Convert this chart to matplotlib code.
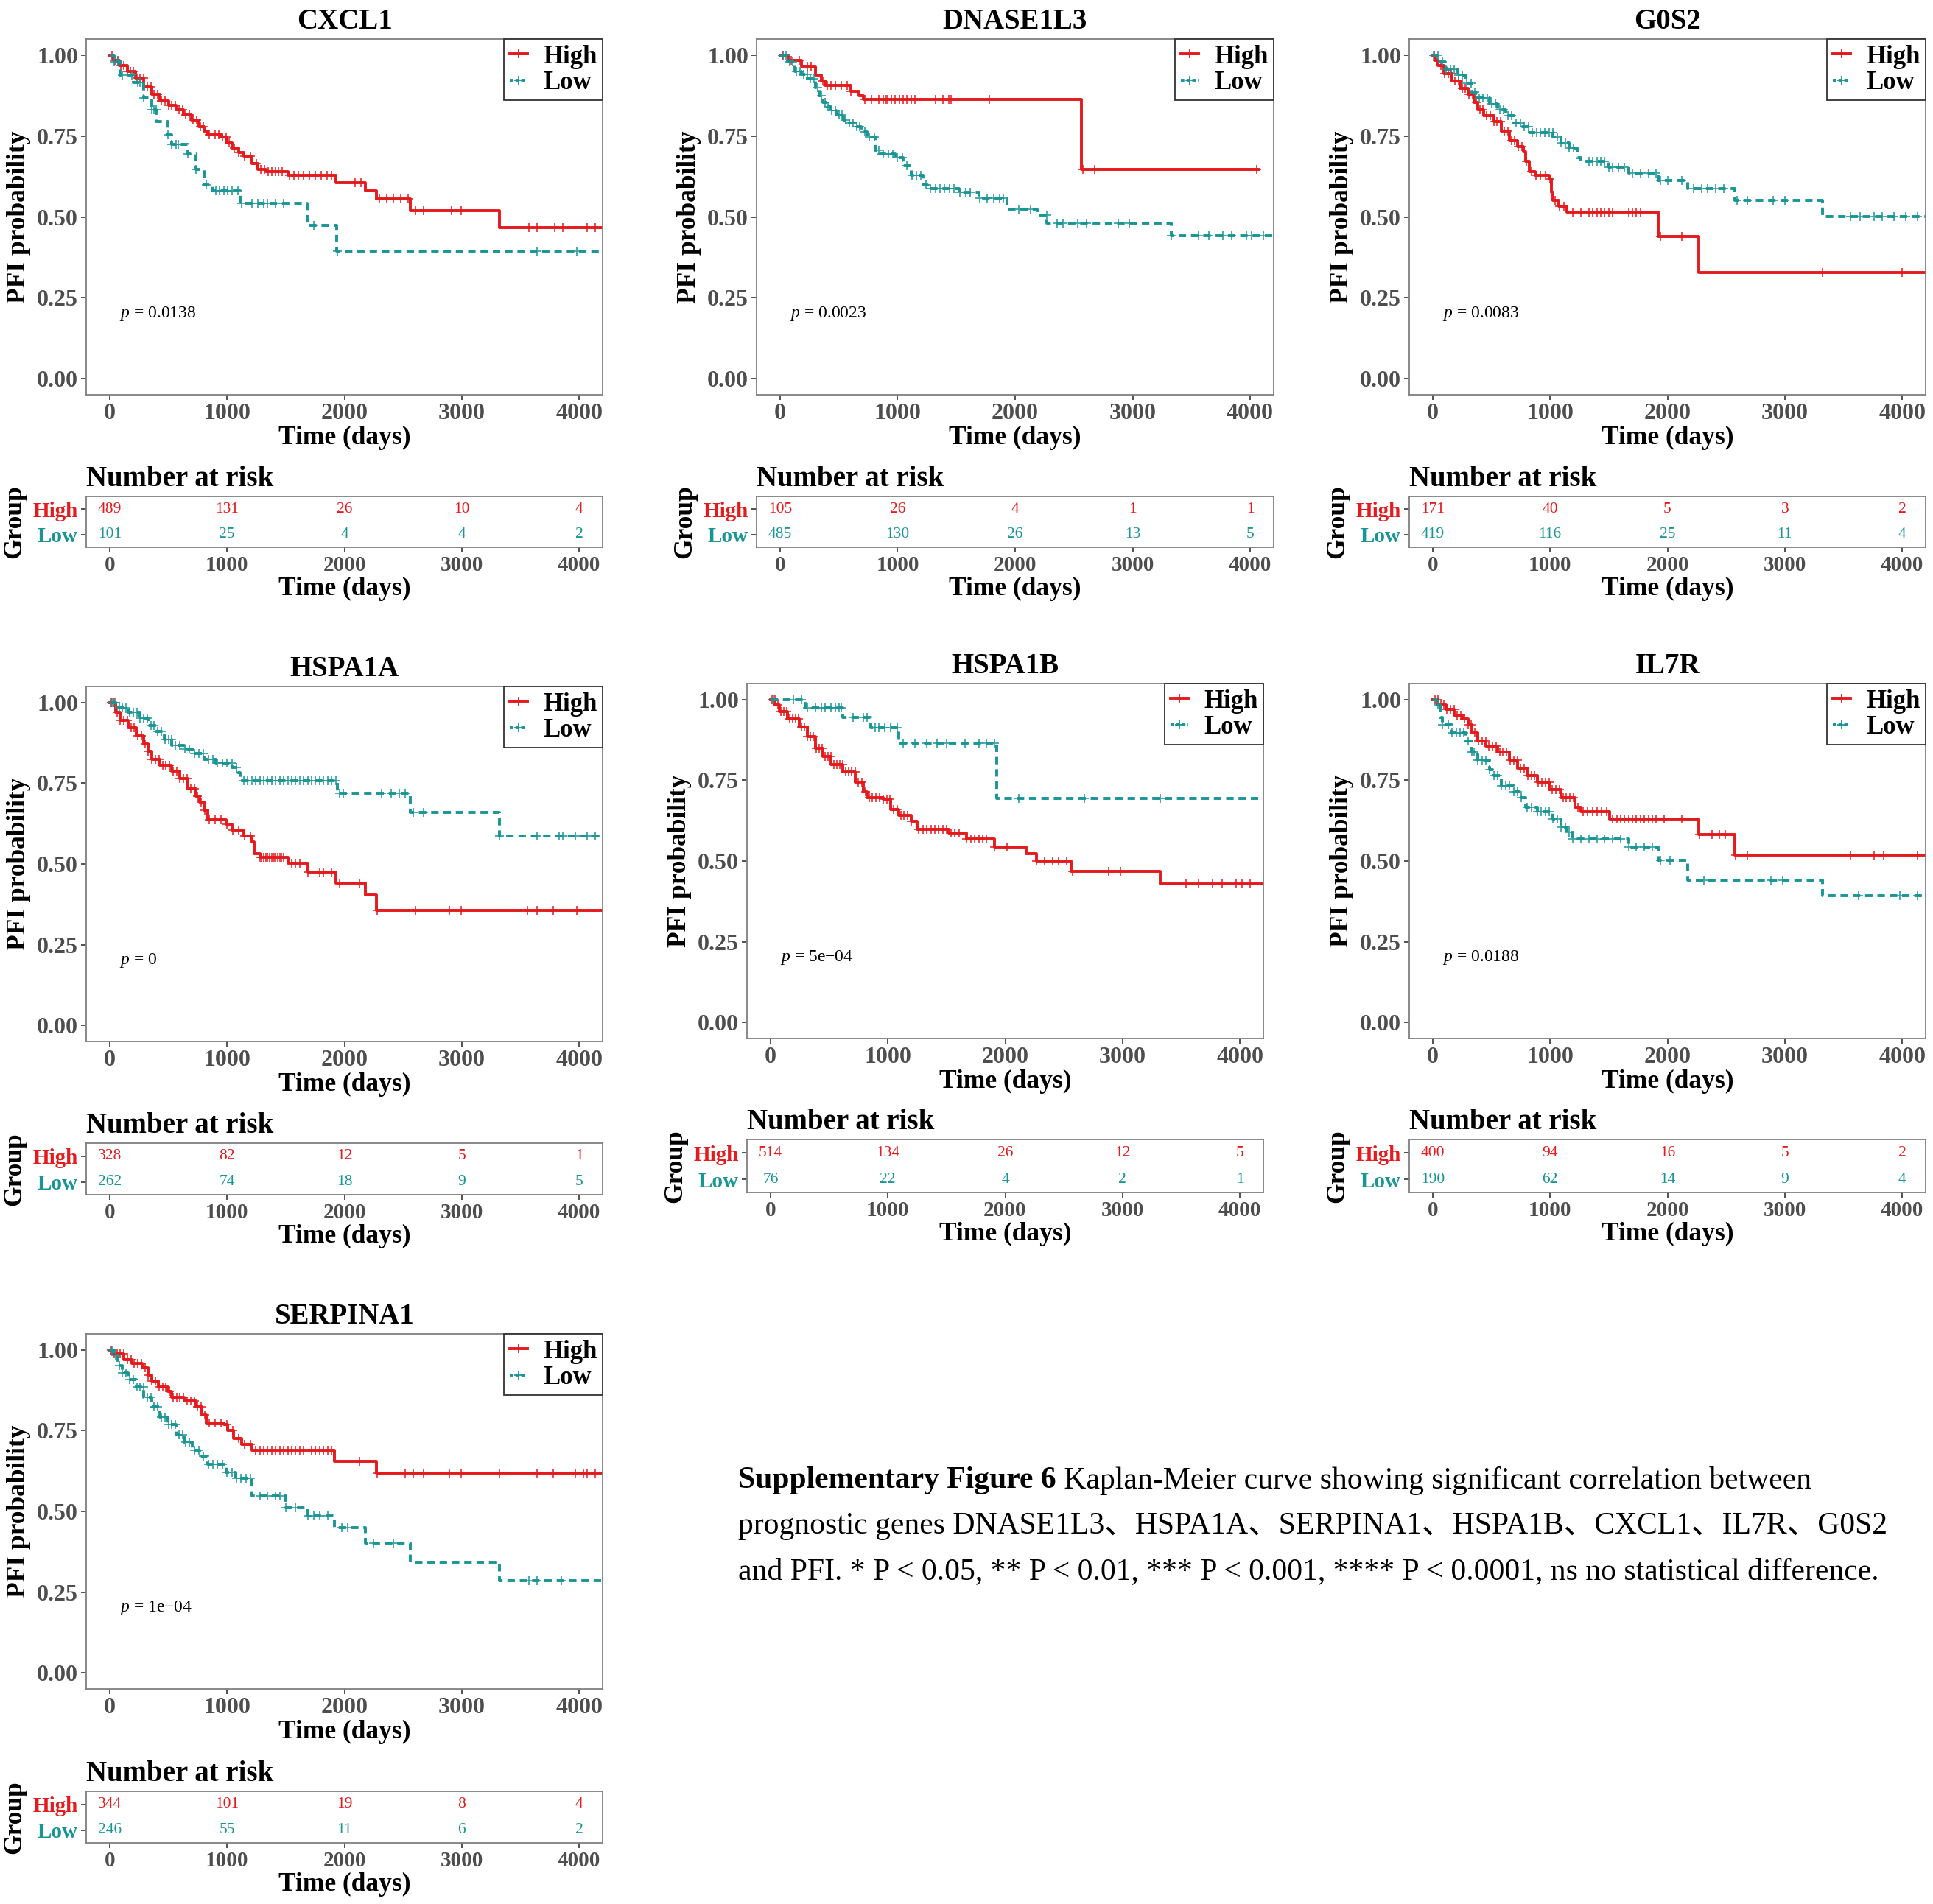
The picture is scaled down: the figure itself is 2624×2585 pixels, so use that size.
import numpy as np
import matplotlib.pyplot as plt
from matplotlib.lines import Line2D

plt.rcParams['font.family'] = ['Liberation Serif', 'Noto Sans CJK SC']
plt.rcParams['mathtext.fontset'] = 'custom'
plt.rcParams['mathtext.it'] = 'Liberation Serif:italic'
plt.rcParams['mathtext.rm'] = 'Liberation Serif'

W, H = 2624, 2585
RED = '#E41A1C'
TEAL = '#1A9595'
GREY = '#4D4D4D'
FRAME = '#7F7F7F'

risk_times = [0, 1000, 2000, 3000, 4000]
y_ticks = [0.0, 0.25, 0.5, 0.75, 1.0]

# ---------------- CXCL1
cxcl1_high_t = [0, 30, 80, 150, 220, 292, 360, 429, 500, 565, 630, 700, 760, 803, 837, 955, 1000, 1041,
                1100, 1143, 1211, 1262, 1330, 1517, 1925, 2180, 2272, 2564, 3319]
cxcl1_high_s = [1.0, 0.985, 0.968, 0.95, 0.93, 0.903, 0.88, 0.859, 0.845, 0.831, 0.815, 0.80, 0.78, 0.766,
                0.754, 0.748, 0.73, 0.713, 0.70, 0.689, 0.665, 0.647, 0.641, 0.628, 0.607, 0.580, 0.556,
                0.519, 0.467]
cxcl1_high_cens = [20, 45, 70, 95, 120, 150, 175, 200, 230, 260, 290, 320, 350, 380, 410, 440, 470, 500, 530,
                   560, 590, 620, 650, 680, 710, 740, 770, 800, 850, 900, 930, 960, 990, 1020, 1060, 1100,
                   1150, 1200, 1250, 1290, 1320, 1350, 1380, 1410, 1440, 1470, 1534, 1570, 1610, 1650, 1700,
                   1750, 1800, 1850, 1891, 2090, 2140, 2300, 2360, 2420, 2480, 2540, 2605, 2673, 2911, 2996,
                   3574, 3642, 3795, 3863, 4068, 4135]
cxcl1_low_t = [0, 37, 88, 200, 292, 360, 395, 497, 530, 667, 735, 803, 871, 1109, 1680, 1935]
cxcl1_low_s = [1.0, 0.98, 0.938, 0.915, 0.867, 0.831, 0.796, 0.754, 0.724, 0.695, 0.647, 0.60, 0.580, 0.543,
               0.473, 0.394]
cxcl1_low_cens = [37, 71, 105, 190, 241, 258, 292, 360, 377, 394, 497, 531, 565, 582, 667, 735, 820, 905, 939,
                  973, 1007, 1041, 1092, 1126, 1211, 1262, 1313, 1347, 1415, 1483, 1738, 1942, 3643, 3983]
cxcl1_risk_high = [489, 131, 26, 10, 4]
cxcl1_risk_low = [101, 25, 4, 4, 2]

# ---------------- DNASE1L3
dnase_high_t = [0, 78, 180, 299, 350, 384, 605, 673, 707, 2564]
dnase_high_s = [1.0, 0.983, 0.966, 0.938, 0.92, 0.906, 0.888, 0.875, 0.863, 0.647]
dnase_high_cens = [27, 95, 163, 231, 265, 367, 401, 435, 469, 520, 571, 605, 724, 775, 843, 877, 894, 911,
                   945, 979, 1013, 1047, 1081, 1116, 1150, 1320, 1388, 1439, 1456, 1779, 2578, 2680, 4057]
dnase_low_t = [0, 61, 129, 180, 231, 299, 330, 367, 400, 435, 480, 537, 590, 639, 690, 741, 809, 843, 979,
               1047, 1116, 1218, 1252, 1524, 1694, 1932, 2187, 2272, 3326]
dnase_low_s = [1.0, 0.98, 0.95, 0.94, 0.926, 0.90, 0.875, 0.855, 0.84, 0.83, 0.815, 0.80, 0.79, 0.778, 0.762,
               0.748, 0.707, 0.695, 0.683, 0.659, 0.629, 0.600, 0.588, 0.576, 0.558, 0.523, 0.505, 0.481, 0.442]
dnase_low_cens = [20, 50, 80, 110, 140, 170, 200, 230, 260, 290, 320, 350, 380, 410, 440, 470, 500, 530, 560,
                  590, 620, 650, 680, 720, 760, 800, 840, 880, 920, 960, 1000, 1040, 1080, 1120, 1160, 1200,
                  1240, 1280, 1320, 1360, 1400, 1440, 1480, 1530, 1580, 1620, 1700, 1760, 1820, 1870, 1900,
                  2030, 2130, 2270, 2360, 2410, 2530, 2610, 2880, 2970, 3330, 3560, 3650, 3770, 3840, 3970,
                  4010, 4110]
dnase_risk_high = [105, 26, 4, 1, 1]
dnase_risk_low = [485, 130, 26, 13, 5]

# ---------------- G0S2
g0s2_high_t = [0, 20, 47, 98, 165, 233, 300, 351, 385, 436, 520, 587, 655, 722, 773, 790, 824, 874, 993,
               1009, 1026, 1077, 1144, 1924, 2269]
g0s2_high_s = [1.0, 0.985, 0.968, 0.944, 0.92, 0.897, 0.879, 0.855, 0.831, 0.814, 0.796, 0.766, 0.736, 0.718,
               0.701, 0.671, 0.641, 0.629, 0.618, 0.576, 0.552, 0.534, 0.514, 0.439, 0.329]
g0s2_high_cens = [15, 40, 70, 100, 130, 160, 190, 220, 250, 280, 310, 340, 370, 400, 430, 460, 490, 520, 550,
                  580, 610, 640, 670, 700, 730, 760, 800, 840, 880, 920, 960, 1000, 1040, 1080, 1120, 1195,
                  1263, 1330, 1364, 1398, 1432, 1465, 1499, 1533, 1668, 1702, 1735, 1769, 1938, 2124, 3322, 3997]
g0s2_low_t = [0, 47, 115, 216, 284, 334, 385, 486, 554, 621, 689, 756, 824, 1026, 1094, 1161, 1229, 1263,
              1499, 1668, 1921, 2174, 2572, 3322]
g0s2_low_s = [1.0, 0.98, 0.956, 0.938, 0.914, 0.885, 0.867, 0.849, 0.831, 0.814, 0.790, 0.778, 0.760, 0.748,
              0.730, 0.713, 0.683, 0.671, 0.653, 0.635, 0.612, 0.588, 0.552, 0.501]
g0s2_low_cens = [10, 45, 80, 115, 150, 185, 220, 255, 290, 325, 360, 395, 430, 465, 500, 535, 570, 605, 640,
                 675, 710, 745, 780, 815, 850, 885, 920, 955, 990, 1025, 1060, 1095, 1130, 1165, 1200, 1330,
                 1364, 1398, 1432, 1465, 1499, 1533, 1583, 1634, 1702, 1769, 1837, 1904, 1938, 2005, 2124,
                 2225, 2292, 2343, 2411, 2478, 2596, 2681, 2900, 3001, 3558, 3643, 3761, 3828, 3930, 4031, 4132]
g0s2_risk_high = [171, 40, 5, 3, 2]
g0s2_risk_low = [419, 116, 25, 11, 4]

# ---------------- HSPA1A
hspa1a_high_t = [0, 54, 88, 156, 224, 292, 327, 360, 429, 531, 599, 667, 735, 769, 803, 837, 990, 1041, 1143,
                 1211, 1228, 1279, 1517, 1687, 1925, 2180, 2272]
hspa1a_high_s = [1.0, 0.971, 0.946, 0.922, 0.898, 0.873, 0.849, 0.825, 0.806, 0.788, 0.764, 0.733, 0.709,
                 0.691, 0.666, 0.636, 0.624, 0.605, 0.587, 0.568, 0.532, 0.520, 0.502, 0.475, 0.441, 0.404, 0.356]
hspa1a_high_cens = [15, 40, 65, 90, 120, 150, 180, 210, 240, 270, 300, 330, 360, 390, 420, 450, 480, 510, 540,
                    570, 600, 630, 660, 690, 720, 750, 780, 810, 850, 900, 950, 1000, 1050, 1100, 1150, 1200,
                    1279, 1296, 1313, 1330, 1347, 1364, 1381, 1398, 1415, 1432, 1449, 1466, 1483, 1551, 1585,
                    1619, 1687, 1789, 1823, 1891, 1959, 2129, 2282, 2605, 2894, 2996, 3557, 3642, 3778, 3983]
hspa1a_low_t = [0, 54, 156, 258, 327, 395, 463, 531, 633, 701, 803, 905, 1041, 1092, 1109, 1942, 2564, 3319]
hspa1a_low_s = [1.0, 0.983, 0.971, 0.952, 0.928, 0.91, 0.886, 0.867, 0.855, 0.843, 0.825, 0.812, 0.80, 0.782,
                0.758, 0.719, 0.660, 0.586]
hspa1a_low_cens = [20, 50, 80, 110, 140, 170, 200, 230, 260, 290, 320, 350, 380, 410, 440, 470, 500, 530, 560,
                   600, 640, 680, 720, 760, 800, 840, 880, 920, 960, 1000, 1040, 1080, 1143, 1177, 1211, 1245,
                   1279, 1313, 1347, 1381, 1415, 1449, 1483, 1517, 1551, 1585, 1619, 1653, 1687, 1721, 1755,
                   1789, 1823, 1857, 1891, 1925, 1959, 1993, 2316, 2401, 2469, 2520, 2588, 2673, 3319, 3642,
                   3829, 3863, 3966, 4068, 4135]
hspa1a_risk_high = [328, 82, 12, 5, 1]
hspa1a_risk_low = [262, 74, 18, 9, 5]

# ---------------- HSPA1B
hspa1b_high_t = [0, 41, 75, 143, 245, 313, 381, 449, 517, 619, 721, 789, 823, 959, 1027, 1095, 1197, 1248,
                 1520, 1673, 1911, 2177, 2268, 2564, 3323]
hspa1b_high_s = [1.0, 0.983, 0.964, 0.94, 0.916, 0.886, 0.849, 0.825, 0.80, 0.776, 0.745, 0.715, 0.697, 0.691,
                 0.660, 0.642, 0.624, 0.599, 0.587, 0.569, 0.544, 0.523, 0.499, 0.468, 0.430]
hspa1b_high_cens = [15, 40, 65, 90, 115, 140, 165, 190, 215, 240, 265, 290, 315, 340, 365, 390, 415, 440, 465,
                    490, 515, 540, 565, 590, 615, 640, 665, 690, 720, 750, 780, 810, 840, 870, 900, 930, 960,
                    990, 1020, 1050, 1080, 1110, 1140, 1170, 1200, 1265, 1299, 1333, 1367, 1401, 1435, 1469,
                    1503, 1537, 1571, 1605, 1673, 1707, 1741, 1775, 1809, 1843, 1911, 2013, 2268, 2337, 2405,
                    2456, 2524, 2575, 2881, 2983, 3544, 3646, 3765, 3850, 3969, 4020, 4088]
hspa1b_low_t = [0, 296, 619, 857, 1095, 1928]
hspa1b_low_s = [1.0, 0.974, 0.944, 0.914, 0.865, 0.693]
hspa1b_low_cens = [24, 194, 262, 313, 381, 432, 466, 517, 551, 585, 602, 704, 789, 823, 891, 925, 976, 1027,
                   1078, 1129, 1231, 1333, 1418, 1503, 1656, 1775, 1843, 1911, 2115, 2677, 3323]
hspa1b_risk_high = [514, 134, 26, 12, 5]
hspa1b_risk_low = [76, 22, 4, 2, 1]

# ---------------- IL7R
il7r_high_t = [0, 47, 115, 182, 250, 300, 334, 385, 452, 554, 655, 722, 807, 891, 993, 1094, 1212, 1263,
               1506, 2269, 2572]
il7r_high_s = [1.0, 0.983, 0.971, 0.952, 0.94, 0.922, 0.898, 0.873, 0.855, 0.837, 0.812, 0.788, 0.764, 0.745,
               0.721, 0.697, 0.666, 0.654, 0.630, 0.582, 0.518]
il7r_high_cens = [20, 45, 70, 95, 120, 150, 180, 210, 240, 270, 300, 330, 360, 390, 420, 450, 480, 510, 540,
                  570, 600, 630, 660, 690, 720, 750, 780, 810, 840, 870, 900, 930, 960, 990, 1020, 1050, 1080,
                  1110, 1140, 1170, 1200, 1240, 1280, 1320, 1360, 1400, 1440, 1480, 1533, 1567, 1600, 1634,
                  1668, 1702, 1735, 1769, 1803, 1837, 1870, 1904, 1971, 2124, 2275, 2377, 2444, 2495, 2579,
                  2681, 3558, 3761, 3845, 4132]
il7r_low_t = [0, 30, 64, 81, 165, 284, 334, 385, 486, 520, 587, 689, 756, 790, 891, 1026, 1094, 1144, 1195,
              1668, 1921, 2174, 3322]
il7r_low_s = [1.0, 0.983, 0.946, 0.922, 0.898, 0.873, 0.837, 0.812, 0.782, 0.764, 0.733, 0.715, 0.697, 0.666,
              0.654, 0.630, 0.606, 0.588, 0.569, 0.544, 0.502, 0.441, 0.392]
il7r_low_cens = [47, 81, 132, 165, 199, 233, 267, 300, 334, 351, 385, 419, 452, 486, 520, 554, 587, 621, 655,
                 689, 722, 756, 807, 840, 891, 925, 959, 993, 1026, 1060, 1094, 1128, 1161, 1195, 1263, 1330,
                 1398, 1465, 1533, 1600, 1668, 1735, 1803, 1870, 1938, 2022, 2309, 2883, 2984, 3626, 3980, 4132]
il7r_risk_high = [400, 94, 16, 5, 2]
il7r_risk_low = [190, 62, 14, 9, 4]

# ---------------- SERPINA1
serpina1_high_t = [0, 30, 122, 190, 276, 327, 360, 412, 497, 531, 633, 735, 786, 820, 973, 1007, 1058, 1126,
                   1211, 1918, 2272]
serpina1_high_s = [1.0, 0.989, 0.971, 0.958, 0.946, 0.922, 0.903, 0.885, 0.873, 0.854, 0.842, 0.824, 0.80,
                   0.775, 0.769, 0.75, 0.726, 0.707, 0.689, 0.656, 0.619]
serpina1_high_cens = [15, 40, 65, 90, 120, 150, 180, 210, 240, 270, 300, 330, 360, 390, 420, 450, 480, 510,
                      540, 570, 600, 630, 660, 690, 720, 750, 780, 810, 850, 900, 950, 1000, 1050, 1100, 1150,
                      1200, 1245, 1279, 1313, 1347, 1381, 1415, 1449, 1483, 1517, 1551, 1585, 1619, 1653, 1721,
                      1755, 1789, 1823, 1857, 1891, 2129, 2282, 2520, 2588, 2673, 2894, 2996, 3319, 3642, 3778,
                      3966, 4034, 4068, 4135]
serpina1_low_t = [0, 37, 71, 105, 156, 224, 292, 360, 429, 497, 565, 633, 701, 769, 837, 990, 1075, 1211,
                  1500, 1687, 1918, 2180, 2564, 3319]
serpina1_low_s = [1.0, 0.983, 0.952, 0.928, 0.909, 0.885, 0.854, 0.824, 0.793, 0.769, 0.738, 0.714, 0.689,
                  0.671, 0.646, 0.622, 0.603, 0.548, 0.512, 0.487, 0.450, 0.401, 0.343, 0.285]
serpina1_low_cens = [20, 50, 80, 110, 140, 170, 200, 230, 260, 290, 320, 350, 380, 410, 440, 470, 500, 530,
                     560, 590, 620, 650, 680, 720, 760, 800, 840, 880, 920, 960, 1000, 1040, 1080, 1120, 1160,
                     1200, 1279, 1347, 1415, 1449, 1500, 1585, 1687, 1738, 1789, 1857, 1976, 2027, 2248, 2418,
                     3574, 3642, 3846]
serpina1_risk_high = [344, 101, 19, 8, 4]
serpina1_risk_low = [246, 55, 11, 6, 2]

caption_bold = 'Supplementary Figure 6'
caption_line1 = ' Kaplan-Meier curve showing significant correlation between'
caption_line2 = 'prognostic genes DNASE1L3、HSPA1A、SERPINA1、HSPA1B、CXCL1、IL7R、G0S2'
caption_line3 = 'and PFI. * P < 0.05, ** P < 0.01, *** P < 0.001, **** P < 0.0001, ns no statistical difference.'

fig = plt.figure(figsize=(W / 100, H / 100), dpi=100)


def px_axes(left, top, right, bottom):
    return fig.add_axes([left / W, 1 - bottom / H, (right - left) / W, (bottom - top) / H])


def km_curve(ax, t, s, end, cens, color, ls):
    x = list(t) + [end]
    y = list(s) + [s[-1]]
    ax.step(x, y, where='post', color=color, lw=2.8, linestyle=ls)
    idx = np.searchsorted(t, cens, side='right') - 1
    ax.plot(cens, np.asarray(s)[idx], ls='none', marker='+', ms=9, mew=1.3, color=color, alpha=0.85)


def style_frame(ax):
    for sp in ax.spines.values():
        sp.set_color(FRAME)
        sp.set_linewidth(1.3)
    ax.tick_params(direction='out', length=5, width=1.2, color='#333333', pad=3)


def panel(gene, box, tbox, high, low, risk_high, risk_low, pval):
    ax = px_axes(*box)
    km_curve(ax, high[0], high[1], high[3], high[2], RED, '-')
    km_curve(ax, low[0], low[1], low[3], low[2], TEAL, (0, (2.6, 1.7)))
    ax.set_xlim(-200, 4200)
    ax.set_ylim(-0.05, 1.05)
    ax.set_xticks(risk_times, [str(v) for v in risk_times], fontsize=23, fontweight='bold', color=GREY)
    ax.set_yticks(y_ticks, ['%.2f' % v for v in y_ticks], fontsize=23, fontweight='bold', color=GREY)
    style_frame(ax)
    ax.set_title(gene, fontsize=28, fontweight='bold', pad=10)
    ax.set_xlabel('Time (days)', fontsize=25.5, fontweight='bold', labelpad=1)
    ax.set_ylabel('PFI probability', fontsize=25.5, fontweight='bold', labelpad=6)
    ax.text(80, 0.2, r'$p$ = ' + pval, fontsize=17, ha='left', va='center')
    handles = [Line2D([], [], color=RED, lw=2.8, marker='+', ms=9, mew=1.3),
               Line2D([], [], color=TEAL, lw=2.8, ls=(0, (1.2, 0.8)), marker='+', ms=9, mew=1.3)]
    leg = ax.legend(handles, ['High', 'Low'], loc='upper right', bbox_to_anchor=(1, 1), borderaxespad=0,
                    fancybox=False, edgecolor='#333333', framealpha=1, handlelength=0.7, handletextpad=0.6,
                    borderpad=0.22, labelspacing=0.06, numpoints=1,
                    prop={'size': 25, 'weight': 'bold'})
    leg.get_frame().set_linewidth(1.3)

    tx = px_axes(*tbox)
    tx.set_xlim(-200, 4200)
    tx.set_ylim(-0.5, 1.5)
    for x, hv, lv in zip(risk_times, risk_high, risk_low):
        tx.text(x, 1, str(hv), color=RED, fontsize=15.5, ha='center', va='center')
        tx.text(x, 0, str(lv), color=TEAL, fontsize=15.5, ha='center', va='center')
    tx.set_xticks(risk_times, [str(v) for v in risk_times], fontsize=21, fontweight='bold', color=GREY)
    tx.set_yticks([1, 0], ['High', 'Low'], fontsize=21, fontweight='bold')
    tx.get_yticklabels()[0].set_color(RED)
    tx.get_yticklabels()[1].set_color(TEAL)
    style_frame(tx)
    tx.set_title('Number at risk', loc='left', fontsize=28, fontweight='bold', pad=10)
    tx.set_xlabel('Time (days)', fontsize=25.5, fontweight='bold', labelpad=1)
    tx.set_ylabel('Group', fontsize=25.5, fontweight='bold', labelpad=6)


panel('CXCL1', (117, 53, 818, 536), (117, 674, 818, 743),
      (cxcl1_high_t, cxcl1_high_s, cxcl1_high_cens, 4300),
      (cxcl1_low_t, cxcl1_low_s, cxcl1_low_cens, 4170),
      cxcl1_risk_high, cxcl1_risk_low, '0.0138')
panel('DNASE1L3', (1027, 53, 1729, 536), (1027, 674, 1729, 743),
      (dnase_high_t, dnase_high_s, dnase_high_cens, 4070),
      (dnase_low_t, dnase_low_s, dnase_low_cens, 4300),
      dnase_risk_high, dnase_risk_low, '0.0023')
panel('G0S2', (1913, 53, 2614, 536), (1913, 674, 2614, 743),
      (g0s2_high_t, g0s2_high_s, g0s2_high_cens, 4300),
      (g0s2_low_t, g0s2_low_s, g0s2_low_cens, 4300),
      g0s2_risk_high, g0s2_risk_low, '0.0083')
panel('HSPA1A', (117, 932, 818, 1414), (117, 1552, 818, 1622),
      (hspa1a_high_t, hspa1a_high_s, hspa1a_high_cens, 4300),
      (hspa1a_low_t, hspa1a_low_s, hspa1a_low_cens, 4170),
      hspa1a_risk_high, hspa1a_risk_low, '0')
panel('HSPA1B', (1014, 928, 1715, 1410), (1014, 1547, 1715, 1619),
      (hspa1b_high_t, hspa1b_high_s, hspa1b_high_cens, 4300),
      (hspa1b_low_t, hspa1b_low_s, hspa1b_low_cens, 4300),
      hspa1b_risk_high, hspa1b_risk_low, '5e\u221204')
panel('IL7R', (1913, 928, 2614, 1410), (1913, 1547, 2614, 1619),
      (il7r_high_t, il7r_high_s, il7r_high_cens, 4300),
      (il7r_low_t, il7r_low_s, il7r_low_cens, 4166),
      il7r_risk_high, il7r_risk_low, '0.0188')
panel('SERPINA1', (117, 1811, 818, 2293), (117, 2432, 818, 2502),
      (serpina1_high_t, serpina1_high_s, serpina1_high_cens, 4300),
      (serpina1_low_t, serpina1_low_s, serpina1_low_cens, 4300),
      serpina1_risk_high, serpina1_risk_low, '1e\u221204')

# caption
cx, cy = 1002, 2010
t_bold = fig.text(cx / W, 1 - cy / H, caption_bold, fontsize=30, fontweight='bold', va='center', ha='left')
renderer = fig.canvas.get_renderer()
bw = t_bold.get_window_extent(renderer).width
fig.text((cx + bw) / W, 1 - cy / H, caption_line1, fontsize=30, va='center', ha='left')
fig.text(cx / W, 1 - (cy + 62) / H, caption_line2, fontsize=30, va='center', ha='left')
fig.text(cx / W, 1 - (cy + 124) / H, caption_line3, fontsize=30, va='center', ha='left')

fig.savefig('out.png', dpi=100, facecolor='white')
